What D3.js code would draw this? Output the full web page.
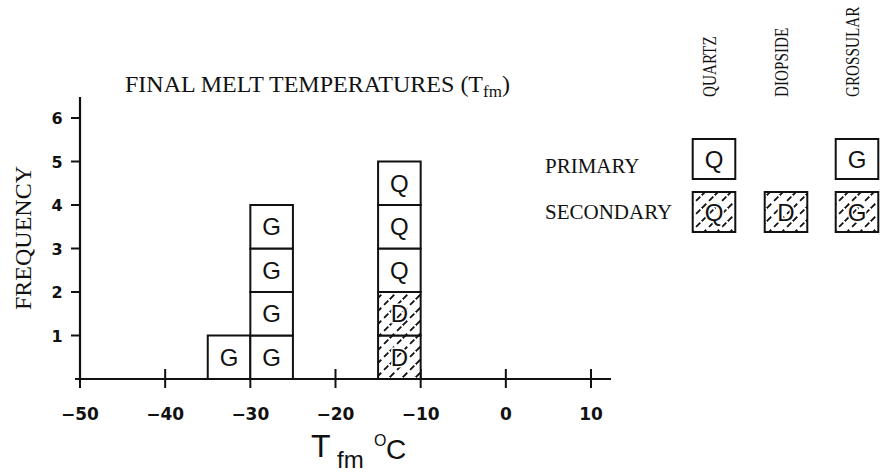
<!DOCTYPE html>
<html>
<head>
<meta charset="utf-8">
<script src="https://cdn.jsdelivr.net/npm/d3@7"></script>
<style>
  html, body { margin: 0; padding: 0; background: #fff; }
  svg { display: block; }
</style>
</head>
<body>
<svg id="chart" width="883" height="473"></svg>
<script>
// Histogram bins: left edge (°C) of each 5-degree bin
const binLeft = [-35, -30, -15];
const binWidth = 5;
// Inclusions stacked in each bin, bottom to top (mineral code)
const binCodes = [
  ["G"],
  ["G", "G", "G", "G"],
  ["D", "D", "Q", "Q", "Q"]
];
// Origin of each inclusion, same order as binCodes
const binOrigin = [
  ["primary"],
  ["primary", "primary", "primary", "primary"],
  ["secondary", "secondary", "primary", "primary", "primary"]
];

const xTicks = [-50, -40, -30, -20, -10, 0, 10];
const yTicks = [1, 2, 3, 4, 5, 6];

// Key: host minerals and which inclusion origins occur in each
const minerals = ["QUARTZ", "DIOPSIDE", "GROSSULAR"];
const mineralCodes = ["Q", "D", "G"];
const hasPrimary = [true, false, true];
const hasSecondary = [true, true, true];
const originNames = ["PRIMARY", "SECONDARY"];

const svg = d3.select("#chart");
const ink = "#111";

const x = d3.scaleLinear().domain([-50, 10]).range([80, 591]);
const y = d3.scaleLinear().domain([0, 6]).range([379, 118]);

// Diagonal broken hatching for secondary inclusions
const defs = svg.append("defs");
const pat = defs.append("pattern")
  .attr("id", "hatch")
  .attr("patternUnits", "userSpaceOnUse")
  .attr("width", 13).attr("height", 13);
pat.append("rect").attr("width", 13).attr("height", 13).attr("fill", "#fff");
pat.append("path")
  .attr("d", "M0,13 L13,0 M-3,3 L3,-3 M10,16 L16,10")
  .attr("stroke", ink).attr("stroke-width", 1.8)
  .attr("stroke-dasharray", "6,4");

const serif = "'Liberation Serif', 'DejaVu Serif', serif";
const sans = "'Liberation Sans', Arial, sans-serif";
const boldSans = "'DejaVu Sans', 'Liberation Sans', sans-serif";

// Title
const title = svg.append("text")
  .attr("x", 125).attr("y", 92)
  .attr("font-family", serif).attr("font-size", 24).attr("fill", ink);
title.append("tspan").text("FINAL MELT TEMPERATURES (T");
title.append("tspan").attr("font-size", 17).attr("dy", 5).text("fm");
title.append("tspan").attr("dy", -5).text(")");

// Axes
const xAxis = svg.append("g").attr("transform", `translate(0,${y(0)})`);
xAxis.append("line").attr("x1", 75).attr("x2", 611)
  .attr("stroke", ink).attr("stroke-width", 2.2);
xAxis.selectAll("line.tick").data(xTicks).join("line")
  .attr("class", "tick")
  .attr("x1", d => x(d)).attr("x2", d => x(d))
  .attr("y1", -10).attr("y2", 9)
  .attr("stroke", ink).attr("stroke-width", 2);
xAxis.selectAll("text").data(xTicks).join("text")
  .attr("x", d => x(d)).attr("y", 41)
  .attr("text-anchor", "middle")
  .attr("font-family", boldSans).attr("font-weight", "bold").attr("font-size", 17)
  .attr("fill", ink)
  .text(d => d < 0 ? "\u2212" + Math.abs(d) : String(d));

const yAxis = svg.append("g").attr("transform", `translate(${x(-50)},0)`);
yAxis.append("line").attr("y1", 97).attr("y2", y(0) + 1)
  .attr("stroke", ink).attr("stroke-width", 2.2);
yAxis.selectAll("line.tick").data(yTicks).join("line")
  .attr("class", "tick")
  .attr("x1", -9).attr("x2", 0)
  .attr("y1", d => y(d)).attr("y2", d => y(d))
  .attr("stroke", ink).attr("stroke-width", 2);
yAxis.selectAll("text").data(yTicks).join("text")
  .attr("x", -23).attr("y", d => y(d) + 6)
  .attr("text-anchor", "middle")
  .attr("font-family", boldSans).attr("font-weight", "bold").attr("font-size", 16)
  .attr("fill", ink)
  .text(d => d);

// Axis titles
svg.append("text")
  .attr("transform", "translate(31,238) rotate(-90)")
  .attr("text-anchor", "middle")
  .attr("font-family", serif).attr("font-size", 24).attr("fill", ink)
  .text("FREQUENCY");

const xt = svg.append("text")
  .attr("font-family", sans).attr("fill", ink);
xt.append("tspan").attr("x", 311).attr("y", 457).attr("font-size", 32).text("T");
xt.append("tspan").attr("x", 337).attr("y", 468).attr("font-size", 24).text("fm");
xt.append("tspan").attr("x", 374).attr("y", 446).attr("font-size", 16).text("O");
xt.append("tspan").attr("x", 386).attr("y", 459).attr("font-size", 28).text("C");

// Stacked inclusion cells
const cells = [];
binLeft.forEach((b, i) => {
  binCodes[i].forEach((code, j) => {
    cells.push({ x0: b, x1: b + binWidth, level: j, code, origin: binOrigin[i][j] });
  });
});

const cg = svg.append("g").selectAll("g").data(cells).join("g");
cg.append("rect")
  .attr("x", d => x(d.x0)).attr("width", d => x(d.x1) - x(d.x0))
  .attr("y", d => y(d.level + 1)).attr("height", d => y(d.level) - y(d.level + 1))
  .attr("fill", d => d.origin === "secondary" ? "url(#hatch)" : "#fff")
  .attr("stroke", ink).attr("stroke-width", 2);
cg.append("text")
  .attr("x", d => (x(d.x0) + x(d.x1)) / 2)
  .attr("y", d => (y(d.level) + y(d.level + 1)) / 2 + 8.5)
  .attr("text-anchor", "middle")
  .attr("font-family", sans).attr("font-size", 24).attr("fill", ink)
  .attr("paint-order", "stroke").attr("stroke", d => d.origin === "secondary" ? "#fff" : "none")
  .attr("stroke-width", 3)
  .text(d => d.code);

// Key
const cw = x(-30) - x(-35);
const kh = 40;
const keyCx = [714, 786, 857];
const rowTop = [139, 192];
const rowBase = [173, 219];

const key = svg.append("g");
key.selectAll("text.min").data(minerals).join("text")
  .attr("class", "min")
  .attr("transform", (d, i) => `translate(${keyCx[i] + 2},97) rotate(-90) scale(0.8,1)`)
  .attr("font-family", serif).attr("font-size", 19).attr("fill", ink)
  .text(d => d);

key.selectAll("text.orig").data(originNames).join("text")
  .attr("class", "orig")
  .attr("x", 545).attr("y", (d, i) => rowBase[i])
  .attr("font-family", serif).attr("font-size", 21).attr("fill", ink)
  .text(d => d);

const keyItems = [];
mineralCodes.forEach((code, i) => {
  if (hasPrimary[i]) keyItems.push({ i, code, row: 0, origin: "primary" });
  if (hasSecondary[i]) keyItems.push({ i, code, row: 1, origin: "secondary" });
});
const kg = key.selectAll("g").data(keyItems).join("g");
kg.append("rect")
  .attr("x", d => keyCx[d.i] - cw / 2).attr("width", cw)
  .attr("y", d => rowTop[d.row]).attr("height", kh)
  .attr("fill", d => d.origin === "secondary" ? "url(#hatch)" : "#fff")
  .attr("stroke", ink).attr("stroke-width", 2);
kg.append("text")
  .attr("x", d => keyCx[d.i]).attr("y", d => rowTop[d.row] + kh / 2 + 8.5)
  .attr("text-anchor", "middle")
  .attr("font-family", sans).attr("font-size", 24).attr("fill", ink)
  .attr("paint-order", "stroke").attr("stroke", d => d.origin === "secondary" ? "#fff" : "none")
  .attr("stroke-width", 3)
  .text(d => d.code);
</script>
</body>
</html>
